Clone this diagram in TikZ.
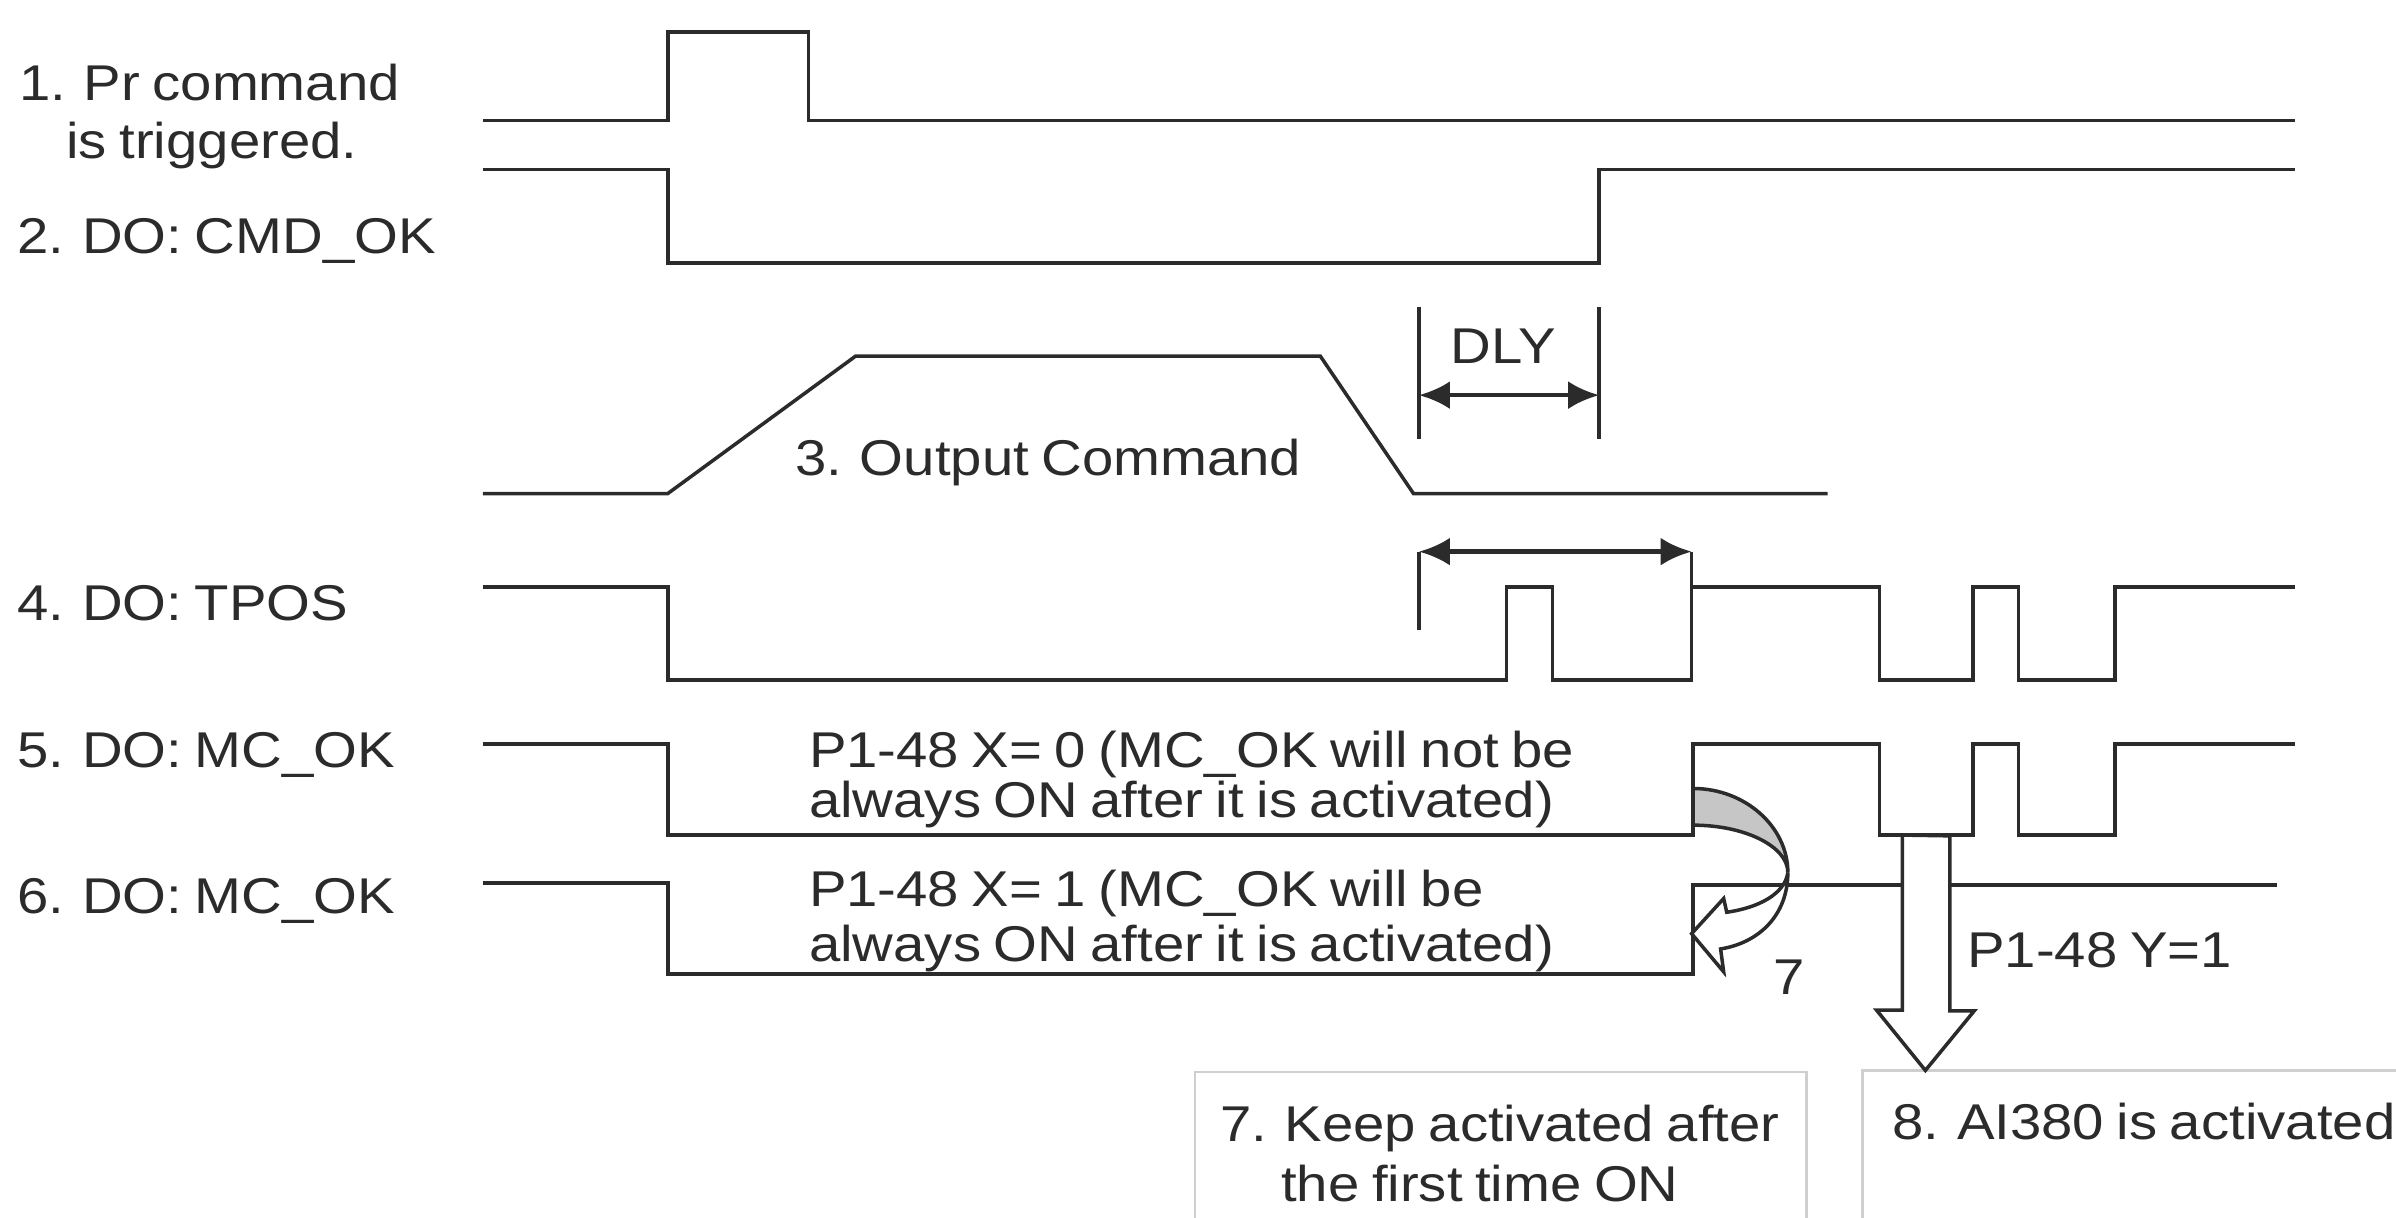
\documentclass[tikz,border=0pt]{standalone}
\usepackage{fontspec}
\setmainfont{Liberation Sans}[FakeStretch=1.12, WordSpace=0.8]
\usepackage{xcolor}
\usetikzlibrary{arrows.meta}
\definecolor{INK}{HTML}{2B2B2B}
\definecolor{EDGE}{HTML}{CFCFCF}
\definecolor{TWIST}{HTML}{C6C6C6}

\begin{document}
\begin{tikzpicture}[
    x=0.01528cm, y=-0.01528cm,
    font=\fontsize{14.3}{17.2}\selectfont,
    wave/.style={draw=INK, line width=1pt},
    rowlabel/.style={anchor=base west, inner sep=0pt, text=INK},
    note/.style={anchor=base west, inner sep=0pt, text=INK},
    dim/.style={draw=INK, line width=1.3pt,
      {Latex[length=3.1mm,width=2.8mm]}-{Latex[length=3.1mm,width=2.8mm]}},
    frame/.style={draw=EDGE, line width=0.8pt},
    hollow/.style={draw=INK, fill=white, line width=1pt, line join=miter},
    twist/.style={draw=INK, fill=TWIST, line width=1pt},
  ]

  \useasboundingbox (0,0) rectangle (1568,796.5);

  \def\xs{316}   % start of every trace
  \def\xe{1502}  % end of the long traces

  % --- row labels ---
  \node[rowlabel] (pr)   at (12,65.5)  {1. Pr command};
  \node[rowlabel] (pr2)  at (43,103.5) {is triggered.};
  \node[rowlabel] (cmd)  at (11,165.8) {2. DO: CMD\_OK};
  \node[rowlabel] (tpos) at (11,406)   {4. DO: TPOS};
  \node[rowlabel] (mcA)  at (11,502.5) {5. DO: MC\_OK};
  \node[rowlabel] (mcB)  at (11,598)   {6. DO: MC\_OK};

  % --- 1. Pr command ---
  \draw[wave] (\xs,79) -- (437,79) -- (437,21) -- (529,21) -- (529,79) -- (\xe,79);

  % --- 2. CMD_OK ---
  \draw[wave] (\xs,111) -- (437,111) -- (437,172) -- (1046.5,172) -- (1046.5,111) -- (\xe,111);

  % --- DLY ---
  \coordinate (dlyL) at (928.6,258.6);
  \coordinate (dlyR) at (1046.5,258.6);
  \draw[wave] (928.6,201) -- (928.6,287);
  \draw[wave] (1046.5,201) -- (1046.5,287);
  \draw[dim] (dlyL) -- (dlyR);
  \node[note] (dly) at (949,237.6) {DLY};

  % --- 3. Output command ---
  \draw[wave] (\xs,323) -- (437,323) -- (560,233) -- (864,233) -- (925,323) -- (1196,323);
  \node[note] (out) at (520,311) {3. Output Command};

  % --- 4. TPOS ---
  \coordinate (tpL) at (928.6,361);
  \coordinate (tpR) at (1107,361);
  \draw[wave] (tpL) -- (928.6,412);
  \draw[dim] (tpL) -- (tpR);
  \draw[wave] (\xs,384) -- (437,384) -- (437,445) -- (986,445) -- (986,384) -- (1016,384)
    -- (1016,445) -- (1107,445) -- (tpR);
  \draw[wave] (1107,384) -- (1230,384) -- (1230,445) -- (1291,445) -- (1291,384) -- (1321,384)
    -- (1321,445) -- (1384,445) -- (1384,384) -- (\xe,384);

  % --- 5. MC_OK, X=0 ---
  \draw[wave] (\xs,487) -- (437,487) -- (437,546.5) -- (1108,546.5) -- (1108,487) -- (1230,487)
    -- (1230,546.5) -- (1291,546.5) -- (1291,487) -- (1321,487) -- (1321,546.5) -- (1384,546.5)
    -- (1384,487) -- (\xe,487);
  \node[note] (x0a) at (529,502) {P1-48 X= 0 (MC\_OK will not be};
  \node[note] (x0b) at (529,535) {always ON after it is activated)};

  % --- 6. MC_OK, X=1 ---
  \draw[wave] (\xs,578) -- (437,578) -- (437,637.5) -- (1108,637.5) -- (1108,579) -- (1490,579);
  \node[note] (x1a) at (529,593.5) {P1-48 X= 1 (MC\_OK will be};
  \node[note] (x1b) at (529,629.5) {always ON after it is activated)};

  % twisted arrow 7: from row 5 edge back to row 6 edge
  \draw[twist] (1108,516) .. controls (1142,516) and (1170,541) .. (1170,571)
    .. controls (1170,554) and (1142,540) .. (1108,540) -- cycle;
  \draw[hollow] (1170,571) .. controls (1170,599) and (1151,617) .. (1126,621)
    -- (1128,636) -- (1107,611) -- (1128,588) -- (1130,597)
    .. controls (1151,594) and (1168,585) .. (1170,571) -- cycle;
  \node[note] (seven) at (1160,651) {7};

  % --- result boxes ---
  \draw[frame] (782,701.5) rectangle (1182,830);
  \draw[frame] (1218.6,700.5) rectangle (1600,830);
  \coordinate (top8) at (1218.6,700.5);
  \node[note] (keep)  at (798,747)   {7. Keep activated after};
  \node[note] (keep2) at (838,786.6) {the first time ON};
  \node[note] (ai)    at (1238,746)  {8. AI380 is activated};

  % block arrow Y=1
  \coordinate (yin) at (1260,546.5);
  \draw[hollow] (yin) ++(-15,0) -- ++(0,114.5) -- ++(-17,0) -- (yin |- top8)
    -- ++(32,-39) -- ++(-16,0) -- ++(0,-114.5) -- cycle;
  \node[note] (yone) at (1287,633) {P1-48 Y=1};

\end{tikzpicture}
\end{document}
